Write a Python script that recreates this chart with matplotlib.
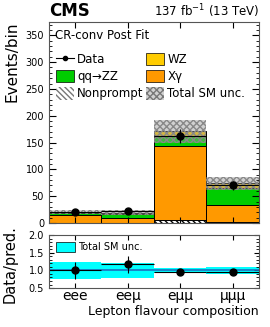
import numpy as np
import matplotlib.pyplot as plt
from matplotlib.patches import Patch
from matplotlib.lines import Line2D
from matplotlib.ticker import MultipleLocator

plt.rcParams["hatch.color"] = "#777777"

# flavour bins
bins = ["eee", "ee\u03bc", "e\u03bc\u03bc", "\u03bc\u03bc\u03bc"]

# post-fit yields per process (stack order bottom -> top)
nonprompt = [0.0, 0.0, 5.0, 2.0]
xgamma = [15.0, 9.0, 138.0, 32.0]
qqzz = [4.5, 8.0, 20.0, 31.0]
wz = [1.0, 2.5, 8.0, 9.0]
tot_unc = [4.0, 5.0, 21.0, 12.0]

data = [20.5, 23.0, 162.0, 70.0]
data_err = [4.5, 4.8, 12.7, 8.4]

ratio = [1.0, 1.17, 0.95, 0.95]
ratio_err = [0.24, 0.23, 0.05, 0.07]
ratio_band = [0.25, 0.22, 0.08, 0.11]

x = np.arange(len(bins))

fig = plt.figure(figsize=(2.7, 3.27), dpi=100)
ax = fig.add_axes([0.181, 0.318, 0.778, 0.615])
rax = fig.add_axes([0.181, 0.119, 0.778, 0.162])

# stacked histogram
bottom = np.zeros(len(bins))
layers = [
    (nonprompt, "white", "\\\\\\\\\\\\"),
    (xgamma, "#ff9900", None),
    (qqzz, "#00cc00", None),
    (wz, "#ffcc00", None),
]
for vals, col, hatch in layers:
    ax.bar(x, vals, width=1.0, bottom=bottom, color=col, edgecolor="black",
           linewidth=0.7, hatch=hatch)
    bottom = bottom + np.array(vals)
total = bottom

ax.bar(x, 2 * np.array(tot_unc), width=1.0, bottom=total - np.array(tot_unc),
       facecolor=(0.6, 0.6, 0.6, 0.45), edgecolor="#888888", linewidth=0,
       hatch="xxxxx")

ax.errorbar(x, data, yerr=data_err, xerr=0.5, fmt="o", color="black",
            markersize=5, elinewidth=0.8, capsize=0)

ax.set_xlim(-0.5, 3.5)
ax.set_ylim(0, 375)
ax.yaxis.set_major_locator(MultipleLocator(50))
ax.yaxis.set_minor_locator(MultipleLocator(10))
ax.set_xticks(x)
ax.set_xticklabels([])
ax.tick_params(axis="both", which="both", direction="in", top=True, right=True,
               labelsize=7)
ax.tick_params(axis="x", which="major", length=4)
ax.tick_params(axis="y", which="major", length=5)
ax.tick_params(axis="y", which="minor", length=2.5)
ax.set_ylabel("Events/bin", fontsize=11, loc="top")
for s in ax.spines.values():
    s.set_color("#555555")

ax.text(0.0, 1.01, "CMS", transform=ax.transAxes, fontsize=12,
        fontweight="bold", ha="left", va="bottom")
ax.text(1.0, 1.01, "137 fb$^{-1}$ (13 TeV)", transform=ax.transAxes,
        fontsize=8.5, ha="right", va="bottom")
ax.text(0.03, 0.93, "CR-conv Post Fit", transform=ax.transAxes, fontsize=8.5,
        ha="left", va="center")

# legend, filled column-wise: left column first, then right column
handles = [
    Line2D([], [], color="black", marker="o", markersize=3, linewidth=0.8),
    Patch(facecolor="#00cc00", edgecolor="black", linewidth=0.5),
    Patch(facecolor="white", edgecolor="#777777", hatch="\\\\\\\\\\\\", linewidth=0),
    Patch(facecolor="#ffcc00", edgecolor="black", linewidth=0.5),
    Patch(facecolor="#ff9900", edgecolor="black", linewidth=0.5),
    Patch(facecolor=(0.6, 0.6, 0.6, 0.45), edgecolor="#777777", hatch="xxxxx", linewidth=0),
]
labels = ["Data", "qq\u2192ZZ", "Nonprompt", "WZ", "X\u03b3", "Total SM unc."]
ax.legend(handles, labels, ncol=2, loc="upper left",
          bbox_to_anchor=(0.0, 0.88), frameon=False, fontsize=8.5,
          handlelength=1.5, handleheight=1.2, handletextpad=0.3,
          columnspacing=0.2, labelspacing=0.35, borderaxespad=0.2)

# ratio pad
rax.bar(x, 2 * np.array(ratio_band), width=1.0, bottom=1 - np.array(ratio_band),
        color="#00ffff", linewidth=0)
rax.axhline(1.0, color="#1f6fbf", linewidth=1.2)
rax.errorbar(x, ratio, yerr=ratio_err, xerr=0.5, fmt="o", color="black",
             markersize=5, elinewidth=0.8, capsize=0)
rax.set_xlim(-0.5, 3.5)
rax.set_ylim(0.5, 2.0)
rax.yaxis.set_major_locator(MultipleLocator(0.5))
rax.yaxis.set_minor_locator(MultipleLocator(0.1))
rax.set_xticks(x)
rax.set_xticklabels(bins, fontsize=10)
rax.tick_params(axis="both", which="both", direction="in", top=True, right=True,
                labelsize=7)
rax.tick_params(axis="x", labelsize=10, pad=1)
rax.set_ylabel("Data/pred.", fontsize=10.5)
rax.yaxis.set_label_coords(-0.15, 0.45)
rax.set_xlabel("Lepton flavour composition", fontsize=9, loc="right", labelpad=1)
rax.legend([Patch(facecolor="#00ffff", edgecolor="black", linewidth=0.5)],
           ["Total SM unc."], loc="upper left", frameon=False, fontsize=7,
           handlelength=2.0, handleheight=1.2, handletextpad=0.3,
           borderaxespad=0.3)
for s in rax.spines.values():
    s.set_color("#555555")

fig.savefig("out.png", dpi=100)
